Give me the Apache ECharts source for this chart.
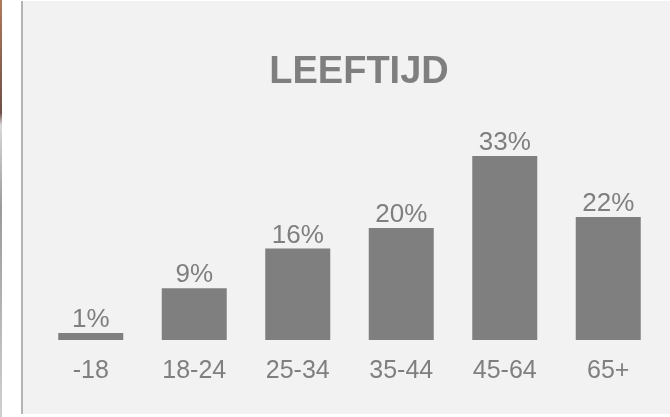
<!DOCTYPE html>
<html>
<head>
<meta charset="utf-8">
<script src="https://cdn.jsdelivr.net/npm/echarts@6/dist/echarts.min.js"></script>
<style>
  html, body { margin: 0; padding: 0; background: #ffffff; }
  #chart { width: 670px; height: 417px; }
</style>
</head>
<body>
<div id="chart"></div>
<script>
const categories = ['-18', '18-24', '25-34', '35-44', '45-64', '65+'];
const shares = [1.25, 9.3, 16.4, 20.1, 33, 22.05];
const title = 'LEEFTIJD';

const gray = '#7f7f7f';
const chart = echarts.init(document.getElementById('chart'), null, { renderer: 'canvas' });

chart.setOption({
  animation: false,
  backgroundColor: '#ffffff',
  graphic: [
    // slice of the neighbouring picture at the far left
    {
      type: 'rect',
      shape: { x: 0, y: 0, width: 2, height: 417 },
      style: {
        fill: {
          type: 'linear', x: 0, y: 0, x2: 0, y2: 1,
          colorStops: [
            { offset: 0, color: '#b07a5c' },
            { offset: 0.27, color: '#6e5046' },
            { offset: 0.3, color: '#d8d8d8' },
            { offset: 0.5, color: '#9a9a9a' },
            { offset: 1, color: '#d0d0d0' }
          ]
        }
      },
      z: -10
    },
    {
      type: 'rect',
      shape: { x: 23, y: 1, width: 647, height: 413 },
      style: { fill: '#f2f2f2' },
      z: -10
    },
    {
      type: 'rect',
      shape: { x: 21, y: 1, width: 2, height: 413 },
      style: { fill: '#b4b4b4' },
      z: -10
    }
  ],
  title: {
    text: title,
    left: 354,
    textAlign: 'center',
    top: 49,
    textStyle: {
      fontFamily: 'Liberation Sans, Arial, sans-serif',
      fontSize: 38,
      fontWeight: 'bold',
      color: gray
    }
  },
  grid: { left: 39, right: 10, top: 117, bottom: 77 },
  xAxis: {
    type: 'category',
    data: categories,
    axisLine: { show: false },
    axisTick: { show: false },
    axisLabel: {
      margin: 19,
      fontFamily: 'Liberation Sans, Arial, sans-serif',
      fontSize: 25,
      color: gray
    }
  },
  yAxis: {
    type: 'value',
    min: 0,
    max: 40,
    show: false,
    splitLine: { show: false }
  },
  series: [
    {
      type: 'bar',
      data: shares,
      barWidth: 65,
      itemStyle: { color: gray },
      label: {
        show: true,
        position: 'top',
        distance: 0,
        formatter: (p) => Math.round(p.value) + '%',
        fontFamily: 'Liberation Sans, Arial, sans-serif',
        fontSize: 26,
        color: gray
      }
    }
  ]
});
</script>
</body>
</html>
